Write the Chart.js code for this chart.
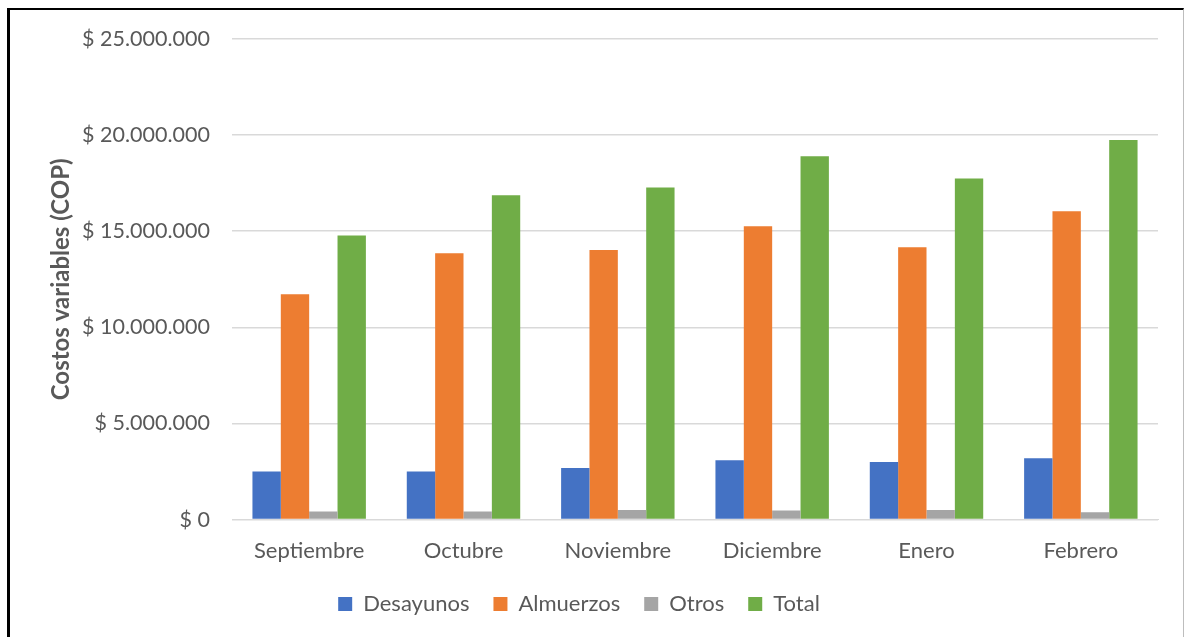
<!DOCTYPE html>
<html>
<head>
<meta charset="utf-8">
<script src="https://cdn.jsdelivr.net/npm/chart.js@4/dist/chart.umd.min.js"></script>
<style>
  html, body { margin: 0; padding: 0; background: #fff; }
  #wrap { position: relative; width: 1186px; height: 637px; overflow: hidden; }
  #frame {
    position: absolute; left: 7px; top: 8px; width: 1177px; height: 640px;
    border-top: 2px solid #000; border-left: 3px solid #000; border-right: 1px solid #bdbdbd;
    box-sizing: border-box; pointer-events: none;
  }
  canvas { position: absolute; left: 0; top: 0; }
</style>
</head>
<body>
<div id="wrap">
  <canvas id="c" width="1186" height="637"></canvas>
  <div id="frame"></div>
</div>
<script>
// Monthly variable costs (COP)
const months = ['Septiembre', 'Octubre', 'Noviembre', 'Diciembre', 'Enero', 'Febrero'];
const desayunos = [2500000, 2500000, 2690000, 3090000, 3000000, 3190000];
const almuerzos = [11720000, 13850000, 14030000, 15260000, 14170000, 16040000];
const otros = [420000, 420000, 500000, 470000, 500000, 380000];
const total = [14780000, 16870000, 17270000, 18900000, 17740000, 19740000];
const yTicks = [0, 5000000, 10000000, 15000000, 20000000, 25000000];

const FONT = 'Lato, "Open Sans", sans-serif';
const TEXT = '#595959';

function pesos(v) {
  return '$ ' + String(Math.round(v)).replace(/\B(?=(\d{3})+(?!\d))/g, '.');
}

new Chart(document.getElementById('c'), {
  type: 'bar',
  data: {
    labels: months,
    datasets: [
      { label: 'Desayunos', data: desayunos, backgroundColor: '#4472C4' },
      { label: 'Almuerzos', data: almuerzos, backgroundColor: '#ED7D31' },
      { label: 'Otros', data: otros, backgroundColor: '#A5A5A5' },
      { label: 'Total', data: total, backgroundColor: '#70AD47' }
    ]
  },
  options: {
    responsive: false,
    animation: false,
    devicePixelRatio: 1,
    layout: { padding: { top: 39, right: 28, bottom: 12, left: 0 } },
    datasets: { bar: { categoryPercentage: 0.735, barPercentage: 1.0 } },
    plugins: {
      tooltip: { enabled: false },
      legend: {
        position: 'bottom',
        labels: {
          color: TEXT,
          font: { family: FONT, size: 22 },
          boxWidth: 14,
          boxHeight: 14,
          padding: 24,
          useBorderRadius: false
        }
      }
    },
    scales: {
      x: {
        afterFit(scale) { scale.height -= 13; },
        grid: { display: false, drawTicks: false },
        border: { color: '#D9D9D9', width: 1 },
        ticks: { color: TEXT, font: { family: FONT, size: 22 }, padding: 18 }
      },
      y: {
        min: 0,
        max: 25000000,
        afterFit(scale) { scale.width = 232; },
        afterBuildTicks(scale) { scale.ticks = yTicks.map(v => ({ value: v })); },
        grid: { color: '#D9D9D9', lineWidth: 1.5, drawTicks: false },
        border: { display: false },
        ticks: {
          color: TEXT,
          font: { family: FONT, size: 21.5 },
          padding: 22,
          callback: v => pesos(v)
        },
        title: {
          display: true,
          text: 'Costos variables (COP)',
          color: TEXT,
          font: { family: FONT, size: 24, weight: 'bold' },
          padding: { top: 47, bottom: 0 }
        }
      }
    }
  }
});
</script>
</body>
</html>
